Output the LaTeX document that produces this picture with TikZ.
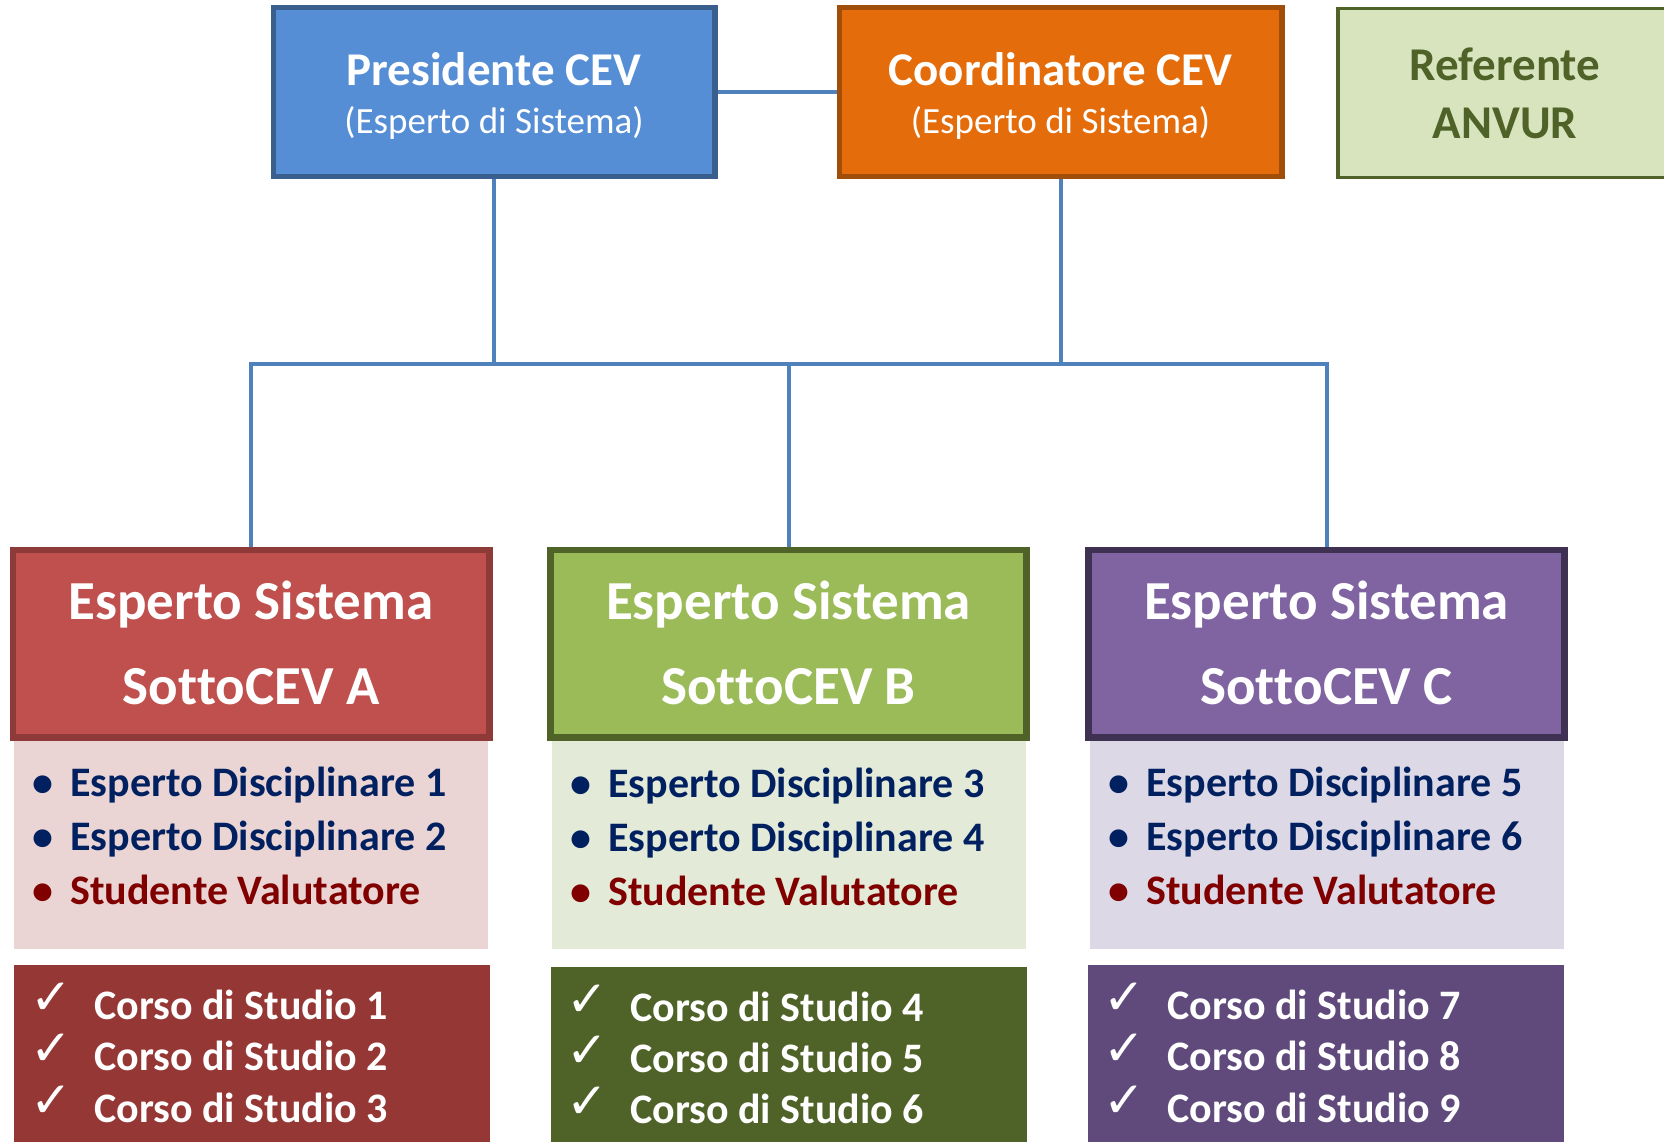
\documentclass[tikz,border=0pt]{standalone}
\usepackage{fontspec}
\setmainfont{Carlito}[Ligatures=NoCommon]
\newfontfamily\symfont{DejaVu Sans}
\definecolor{presfill}{HTML}{558ED5}
\definecolor{presdraw}{HTML}{3A5F8E}
\definecolor{coordfill}{HTML}{E46C0A}
\definecolor{coorddraw}{HTML}{A24E0B}
\definecolor{reffill}{HTML}{D7E4BD}
\definecolor{refdraw}{HTML}{4F6228}
\definecolor{conncol}{HTML}{4F81BD}
\definecolor{afill}{HTML}{C0504D}
\definecolor{adraw}{HTML}{8E3A38}
\definecolor{alist}{HTML}{EAD4D4}
\definecolor{acheck}{HTML}{953735}
\definecolor{bfill}{HTML}{9BBB59}
\definecolor{bdraw}{HTML}{4F6228}
\definecolor{blist}{HTML}{E3EAD8}
\definecolor{bcheck}{HTML}{4F6228}
\definecolor{cfill}{HTML}{8064A2}
\definecolor{cdraw}{HTML}{3F3151}
\definecolor{clist}{HTML}{DCD8E6}
\definecolor{ccheck}{HTML}{604A7B}
\definecolor{navy}{HTML}{002060}
\definecolor{darkred}{HTML}{800000}
\begin{document}
\begin{tikzpicture}[x=1pt,y=-1pt,
  topbox/.style={rectangle, line width=3.5pt, inner sep=0pt, minimum width=440pt, minimum height=167pt},
  headbox/.style={rectangle, line width=4.5pt, inner sep=0pt, minimum width=474pt, minimum height=185pt},
  listbox/.style={rectangle, inner sep=0pt, minimum width=474pt, minimum height=210pt},
  chkbox/.style={rectangle, inner sep=0pt, minimum width=476pt, minimum height=200pt},
  conn/.style={draw=conncol, line width=4pt},
  txt/.style={anchor=base, inner sep=0pt},
  ltxt/.style={anchor=base west, inner sep=0pt},
  titlefont/.style={font=\fontsize{47}{47}\selectfont\bfseries},
  subfont/.style={font=\fontsize{37}{37}\selectfont},
  headfont/.style={font=\fontsize{55}{55}\selectfont\bfseries},
  itemfont/.style={font=\fontsize{42}{42}\selectfont\bfseries},
  chkfont/.style={font=\fontsize{50}{50}\selectfont\symfont}
]
\useasboundingbox (0,0) rectangle (1664,1142);
\fill[white] (0,0) rectangle (1664,1142);

% boxes
\node[topbox, draw=presdraw, fill=presfill] (pres) at (494,92) {};
\node[topbox, draw=coorddraw, fill=coordfill, minimum width=441pt] (coord) at (1060.5,92) {};
\node[topbox, draw=refdraw, fill=reffill, minimum width=334pt, minimum height=169pt] (ref) at (1505,93) {};

\node[headbox, draw=adraw, fill=afill] (hA) at (251,643.5) {};
\node[headbox, draw=bdraw, fill=bfill] (hB) at (788.5,643.5) {};
\node[headbox, draw=cdraw, fill=cfill] (hC) at (1326.5,643.5) {};

\node[listbox, fill=alist] (lA) at (251,844) {};
\node[listbox, fill=blist] (lB) at (788.5,844) {};
\node[listbox, fill=clist] (lC) at (1326.5,844) {};

\node[chkbox, fill=acheck] (cA) at (252,1065) {};
\node[chkbox, fill=bcheck] (cB) at (788.5,1067) {};
\node[chkbox, fill=ccheck] (cC) at (1325.5,1065) {};

% connectors
\coordinate (bus) at (0,364);
\draw[conn] (pres) -- (coord);
\draw[conn] (pres.south) -- (pres.south |- bus);
\draw[conn] (coord.south) -- (coord.south |- bus);
\draw[conn] (hA.north) -- (hA.north |- bus) -- (hC.north |- bus) -- (hC.north);
\draw[conn] (hB.north |- bus) -- (hB.north);

% redraw box borders over connector ends
\draw[presdraw, line width=3.5pt] (pres.north west) rectangle (pres.south east);
\draw[coorddraw, line width=3.5pt] (coord.north west) rectangle (coord.south east);
\draw[adraw, line width=4.5pt] (hA.north west) rectangle (hA.south east);
\draw[bdraw, line width=4.5pt] (hB.north west) rectangle (hB.south east);
\draw[cdraw, line width=4.5pt] (hC.north west) rectangle (hC.south east);

% top texts
\node[txt, titlefont, text=white] (presT) at (494,86) {Presidente CEV};
\node[txt, subfont, text=white] (presS) at (494,134) {(Esperto di Sistema)};
\node[txt, titlefont, text=white] (coordT) at (1060.5,86) {Coordinatore CEV};
\node[txt, subfont, text=white] (coordS) at (1060.5,134) {(Esperto di Sistema)};
\node[txt, titlefont, text=refdraw] (refT) at (1505,81) {Referente};
\node[txt, titlefont, text=refdraw] (refS) at (1505,139) {ANVUR};

% header texts
\node[txt, headfont, text=white] (hAt) at (251,619) {Esperto Sistema};
\node[txt, headfont, text=white] (hAs) at (251,704) {Sot\kern0pt to\kern0pt CEV A};
\node[txt, headfont, text=white] (hBt) at (788.5,619) {Esperto Sistema};
\node[txt, headfont, text=white] (hBs) at (788.5,704) {Sot\kern0pt to\kern0pt CEV B};
\node[txt, headfont, text=white] (hCt) at (1326.5,619) {Esperto Sistema};
\node[txt, headfont, text=white] (hCs) at (1326.5,704) {Sot\kern0pt to\kern0pt CEV C};

% list A
\node[txt, itemfont, text=navy] (bA1) at (43,796) {•};
\node[ltxt, itemfont, text=navy] (iA1) at (70,796) {Esperto Disciplinare 1};
\node[txt, itemfont, text=navy] (bA2) at (43,850) {•};
\node[ltxt, itemfont, text=navy] (iA2) at (70,850) {Esperto Disciplinare 2};
\node[txt, itemfont, text=darkred] (bA3) at (43,904) {•};
\node[ltxt, itemfont, text=darkred] (iA3) at (70,904) {Studente Valutatore};
% list B
\node[txt, itemfont, text=navy] (bB1) at (581,797) {•};
\node[ltxt, itemfont, text=navy] (iB1) at (608,797) {Esperto Disciplinare 3};
\node[txt, itemfont, text=navy] (bB2) at (581,851) {•};
\node[ltxt, itemfont, text=navy] (iB2) at (608,851) {Esperto Disciplinare 4};
\node[txt, itemfont, text=darkred] (bB3) at (581,905) {•};
\node[ltxt, itemfont, text=darkred] (iB3) at (608,905) {Studente Valutatore};
% list C
\node[txt, itemfont, text=navy] (bC1) at (1119,796) {•};
\node[ltxt, itemfont, text=navy] (iC1) at (1146,796) {Esperto Disciplinare 5};
\node[txt, itemfont, text=navy] (bC2) at (1119,850) {•};
\node[ltxt, itemfont, text=navy] (iC2) at (1146,850) {Esperto Disciplinare 6};
\node[txt, itemfont, text=darkred] (bC3) at (1119,904) {•};
\node[ltxt, itemfont, text=darkred] (iC3) at (1146,904) {Studente Valutatore};

% checklists
\node[txt, chkfont, text=white] (kA1) at (51,1014) {✓};
\node[ltxt, itemfont, text=white] (sA1) at (94,1019) {Corso di Studio 1};
\node[txt, chkfont, text=white] (kA2) at (51,1065) {✓};
\node[ltxt, itemfont, text=white] (sA2) at (94,1070) {Corso di Studio 2};
\node[txt, chkfont, text=white] (kA3) at (51,1117) {✓};
\node[ltxt, itemfont, text=white] (sA3) at (94,1122) {Corso di Studio 3};

\node[txt, chkfont, text=white] (kB1) at (587,1016) {✓};
\node[ltxt, itemfont, text=white] (sB1) at (630,1021) {Corso di Studio 4};
\node[txt, chkfont, text=white] (kB2) at (587,1067) {✓};
\node[ltxt, itemfont, text=white] (sB2) at (630,1072) {Corso di Studio 5};
\node[txt, chkfont, text=white] (kB3) at (587,1118) {✓};
\node[ltxt, itemfont, text=white] (sB3) at (630,1123) {Corso di Studio 6};

\node[txt, chkfont, text=white] (kC1) at (1124,1014) {✓};
\node[ltxt, itemfont, text=white] (sC1) at (1167,1019) {Corso di Studio 7};
\node[txt, chkfont, text=white] (kC2) at (1124,1065) {✓};
\node[ltxt, itemfont, text=white] (sC2) at (1167,1070) {Corso di Studio 8};
\node[txt, chkfont, text=white] (kC3) at (1124,1117) {✓};
\node[ltxt, itemfont, text=white] (sC3) at (1167,1122) {Corso di Studio 9};
\end{tikzpicture}
\end{document}
